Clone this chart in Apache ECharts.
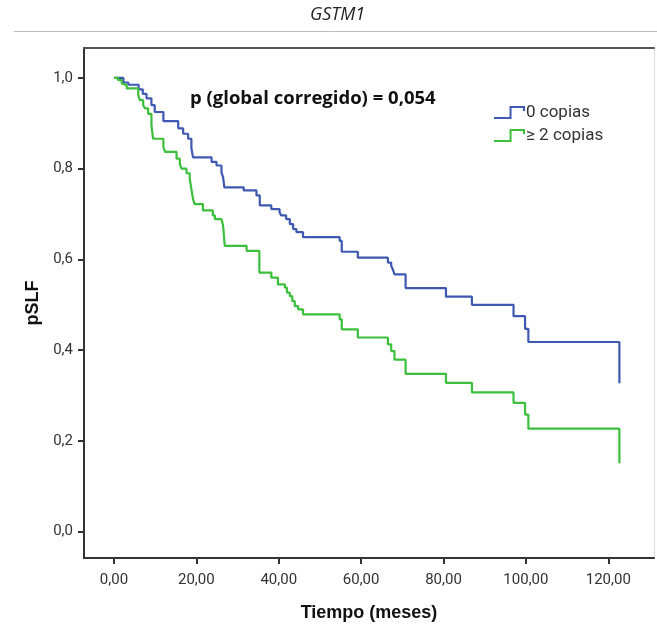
<!DOCTYPE html>
<html><head><meta charset="utf-8">
<script src="https://cdn.jsdelivr.net/npm/echarts@6/dist/echarts.min.js"></script>
<style>html,body{margin:0;padding:0;background:#fff}#c{width:657px;height:628px}</style>
</head><body><div id="c"></div>
<script>
const chartTitle = 'GSTM1';
const pText = 'p (global corregido) = 0,054';
const seriesNames = ['0 copias', '\u2265 2 copias'];
const blueTime = [0,2.3,3.5,6.0,7.0,7.9,9.1,9.9,12.0,15.6,16.8,18.0,18.8,19.2,23.7,24.9,26.1,26.5,26.8,31.5,34.6,35.4,38.2,40.2,40.6,41.8,42.7,43.5,44.3,45.9,54.8,55.3,59.2,66.5,67.3,67.7,68.1,70.8,80.6,86.9,97.0,99.8,100.6,122.7,122.7];
const blueSurv = [1.0,0.99,0.985,0.975,0.965,0.955,0.94,0.925,0.905,0.889,0.877,0.866,0.845,0.825,0.815,0.807,0.792,0.781,0.759,0.752,0.741,0.719,0.711,0.704,0.697,0.689,0.678,0.667,0.66,0.649,0.641,0.617,0.604,0.593,0.586,0.578,0.567,0.537,0.518,0.5,0.475,0.447,0.418,0.418,0.327];
const greenTime = [0,1.0,1.9,2.3,3.1,5.9,6.3,7.1,7.5,8.3,9.1,9.5,12.0,12.4,15.2,16.0,16.4,17.6,18.4,18.8,19.2,19.6,21.6,24.0,24.5,26.1,26.5,26.9,32.2,35.3,38.2,39.8,41.5,42.0,42.7,43.3,43.9,44.7,45.9,54.8,55.3,59.2,66.5,67.3,68.1,70.8,80.6,86.9,97.0,99.8,100.6,122.7,122.7];
const greenSurv = [1.0,0.995,0.988,0.984,0.977,0.962,0.951,0.94,0.933,0.921,0.896,0.866,0.848,0.837,0.822,0.81,0.8,0.79,0.778,0.755,0.733,0.722,0.708,0.697,0.689,0.685,0.674,0.63,0.619,0.571,0.56,0.545,0.538,0.527,0.519,0.508,0.497,0.49,0.479,0.468,0.446,0.428,0.413,0.398,0.379,0.348,0.328,0.307,0.284,0.258,0.227,0.227,0.151];
const xTicks = [0,20,40,60,80,100,120];
const yTicks = [0,0.2,0.4,0.6,0.8,1.0];

const BLUE = '#3f58b2', GREEN = '#3cbf3c';
const XMIN = -7.27, XMAX = 131.1, YMIN = -0.058, YMAX = 1.066;
const legendIcon = 'path://M0,11L16,11L16,0L29,0L29,4';

const chart = echarts.init(document.getElementById('c'), null, {renderer: 'canvas'});
const hiddenAxis = {
  axisTick: {show: false}, axisLabel: {show: false}, splitLine: {show: false}
};
chart.setOption({
  animation: false,
  backgroundColor: '#fff',
  title: {
    text: chartTitle, left: 305, top: 1,
    textStyle: {fontStyle: 'italic', fontWeight: 'normal', fontSize: 18, fontFamily: 'Open Sans', color: '#222'}
  },
  grid: {left: 84, right: 3, top: 48, bottom: 70},
  legend: {
    orient: 'vertical', left: 493, top: 104, padding: 0, itemWidth: 30, itemHeight: 11, itemGap: 6,
    symbolKeepAspect: false,
    textStyle: {fontSize: 17, fontFamily: 'Roboto', color: '#333', padding: [0, 0, 0, -3]},
    data: [
      {name: seriesNames[0], icon: legendIcon, itemStyle: {color: 'transparent', borderColor: BLUE, borderWidth: 2}},
      {name: seriesNames[1], icon: legendIcon, itemStyle: {color: 'transparent', borderColor: GREEN, borderWidth: 2}}
    ]
  },
  xAxis: [{
    type: 'value', min: XMIN, max: XMAX,
    axisLine: {show: true, onZero: false, lineStyle: {color: '#333', width: 2}},
    axisTick: {show: true, length: 6, customValues: xTicks, lineStyle: {color: '#333', width: 2}},
    axisLabel: {customValues: xTicks, margin: 15, fontSize: 15, fontFamily: 'Roboto', color: '#333',
      formatter: v => v.toFixed(2).replace('.', ',')},
    splitLine: {show: false},
    name: 'Tiempo (meses)', nameLocation: 'middle', nameGap: 46,
    nameTextStyle: {fontWeight: 'bold', fontSize: 18, fontFamily: 'Liberation Sans', color: '#111'}
  }, Object.assign({
    type: 'value', position: 'top', min: XMIN, max: XMAX,
    axisLine: {show: true, onZero: false, lineStyle: {color: '#555', width: 2}}
  }, hiddenAxis)],
  yAxis: [{
    type: 'value', min: YMIN, max: YMAX,
    axisLine: {show: true, onZero: false, lineStyle: {color: '#333', width: 2}},
    axisTick: {show: true, length: 6, customValues: yTicks, lineStyle: {color: '#333', width: 2}},
    axisLabel: {customValues: yTicks, margin: 11, fontSize: 15, fontFamily: 'Roboto', color: '#333',
      formatter: v => v.toFixed(1).replace('.', ',')},
    splitLine: {show: false},
    name: 'pSLF', nameLocation: 'middle', nameGap: 38, nameRotate: 90,
    nameTextStyle: {fontWeight: 'bold', fontSize: 18, fontFamily: 'Liberation Sans', color: '#111'}
  }, Object.assign({
    type: 'value', position: 'right', min: YMIN, max: YMAX,
    axisLine: {show: true, onZero: false, lineStyle: {color: '#ddd', width: 1}}
  }, hiddenAxis)],
  graphic: [
    {type: 'line', shape: {x1: 14, y1: 31.5, x2: 657, y2: 31.5}, style: {stroke: '#bbb', lineWidth: 1}},
    {type: 'text', left: 190, top: 89, style: {text: pText, font: 'bold 18.5px "Open Sans"', fill: '#111'}}
  ],
  series: [
    {name: seriesNames[0], type: 'line', step: 'end', symbol: 'none', color: BLUE,
      lineStyle: {width: 2.2, color: BLUE}, data: blueTime.map((t, i) => [t, blueSurv[i]])},
    {name: seriesNames[1], type: 'line', step: 'end', symbol: 'none', color: GREEN,
      lineStyle: {width: 2.2, color: GREEN}, data: greenTime.map((t, i) => [t, greenSurv[i]])}
  ]
});
</script></body></html>
